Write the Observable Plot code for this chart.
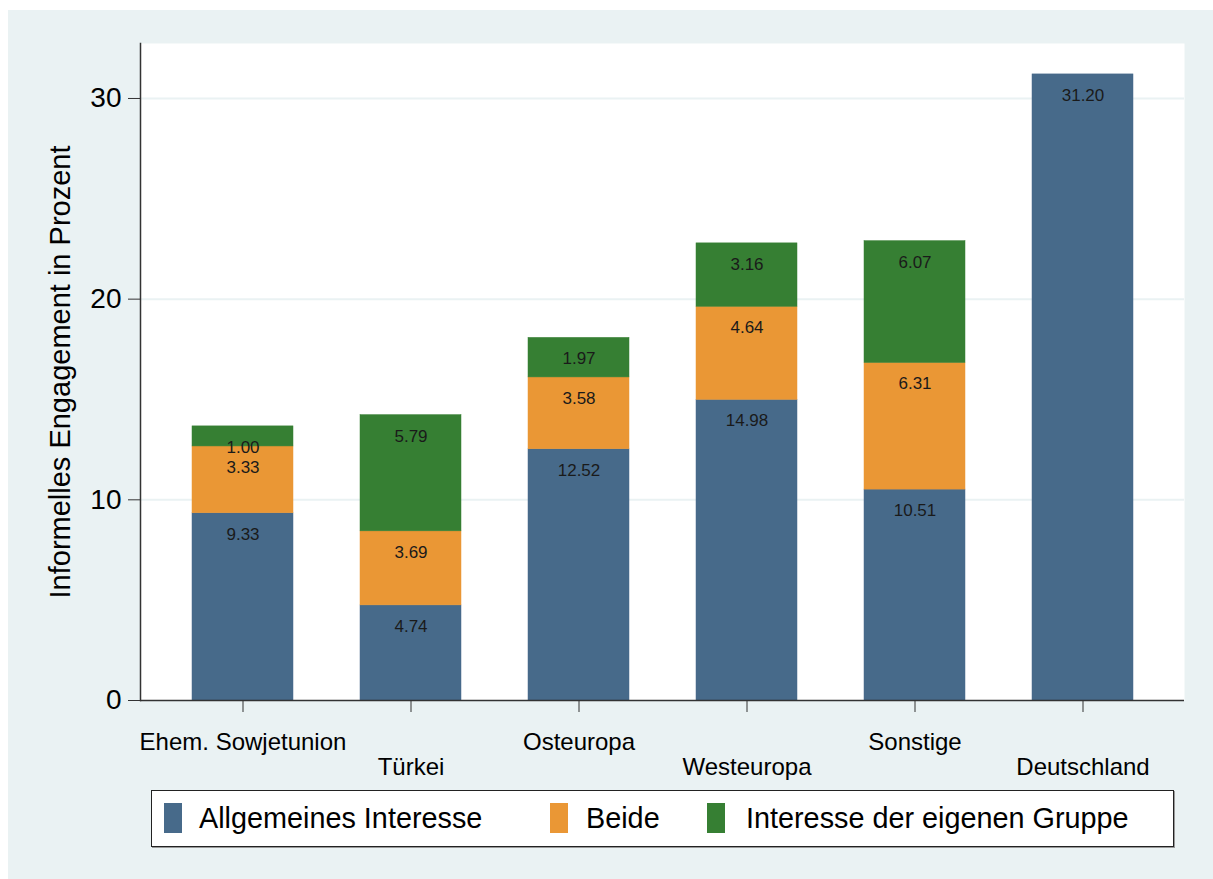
<!DOCTYPE html>
<html>
<head>
<meta charset="utf-8">
<script src="https://cdn.jsdelivr.net/npm/d3@7"></script>
<script src="https://cdn.jsdelivr.net/npm/@observablehq/plot@0.6"></script>
<style>
  html, body { margin: 0; padding: 0; background: #ffffff; }
  #wrap { position: absolute; left: 8px; top: 10px; width: 1205px; height: 869px; background: #EAF2F3;
          font-family: "Liberation Sans", Arial, sans-serif; }
  #legend { position: absolute; left: 143px; top: 780px; width: 1021px; height: 55px; background: #fff;
            border: 1.5px solid #222; box-shadow: 1px 1px 0 #999; }
  .sw { position: absolute; top: 12px; width: 18px; height: 30px; }
  .lt { position: absolute; top: 0; line-height: 55px; font-size: 28.8px; color: #000; white-space: nowrap; }
</style>
</head>
<body>
<div id="wrap"><div id="chart"></div><div id="legend"></div></div>
<script>
const categories = ["Ehem. Sowjetunion", "Türkei", "Osteuropa", "Westeuropa", "Sonstige", "Deutschland"];
const groups = ["Allgemeines Interesse", "Beide", "Interesse der eigenen Gruppe"];
const allgemein = [9.33, 4.74, 12.52, 14.98, 10.51, 31.20];
const beide = [3.33, 3.69, 3.58, 4.64, 6.31, null];
const eigene = [1.00, 5.79, 1.97, 3.16, 6.07, null];
const yTicks = [0, 10, 20, 30];
const colors = ["#476A8A", "#EA9735", "#367F33"];
const yTitle = "Informelles Engagement in Prozent";

const series = [allgemein, beide, eigene];
const rows = [];
categories.forEach((c, i) => {
  series.forEach((s, g) => {
    if (s[i] != null) rows.push({cat: c, group: groups[g], value: s[i]});
  });
});

const font = "'Liberation Sans', Arial, sans-serif";
const chart = Plot.plot({
  width: 1205,
  height: 780,
  marginLeft: 132,
  marginRight: 29,
  marginTop: 33,
  marginBottom: 90,
  style: {background: "transparent", fontFamily: font, overflow: "visible", color: "#000"},
  x: {domain: categories, paddingInner: 0.4, paddingOuter: 0.3, axis: null},
  y: {domain: [0, 32.74], axis: null},
  color: {domain: groups, range: colors},
  marks: [
    Plot.frame({fill: "white", stroke: "none"}),
    Plot.gridY(yTicks.slice(1), {stroke: "#EAF2F3", strokeOpacity: 1, strokeWidth: 2}),
    Plot.barY(rows, {x: "cat", y: "value", z: "group", fill: "group", stroke: "group", strokeWidth: 0.5}),
    Plot.text(rows, Plot.stackY2({x: "cat", y: "value", z: "group", text: d => d.value.toFixed(2),
      dy: 21, fontSize: 17, fill: "#1a1a1a"})),
    Plot.axisY(yTicks, {tickSize: 12, tickPadding: 7, fontSize: 28, label: null, stroke: "#333", fill: "#000"}),
    Plot.axisX(categories.filter((d, i) => i % 2 === 0), {tickSize: 12, tickPadding: 20, fontSize: 24, label: null, stroke: "#333", fill: "#000"}),
    Plot.axisX(categories.filter((d, i) => i % 2 === 1), {tickSize: 12, tickPadding: 45, fontSize: 24, label: null, stroke: "#333", fill: "#000"}),
    Plot.ruleY([0], {stroke: "#333", strokeWidth: 1.5}),
    Plot.frame({anchor: "left", stroke: "#333", strokeWidth: 1.5}),
    Plot.text([yTitle], {frameAnchor: "left", textAnchor: "middle", lineAnchor: "middle", rotate: -90, dx: -80, fontSize: 29, fill: "#000"})
  ]
});
document.getElementById("chart").appendChild(chart);

// legend
const legend = document.getElementById("legend");
const swLeft = [12, 398, 555];
const txtLeft = [47, 434, 594];
groups.forEach((g, i) => {
  const sw = document.createElement("div");
  sw.className = "sw";
  sw.style.left = swLeft[i] + "px";
  sw.style.background = colors[i];
  legend.appendChild(sw);
  const t = document.createElement("div");
  t.className = "lt";
  t.style.left = txtLeft[i] + "px";
  t.textContent = g;
  legend.appendChild(t);
});
</script>
</body>
</html>
